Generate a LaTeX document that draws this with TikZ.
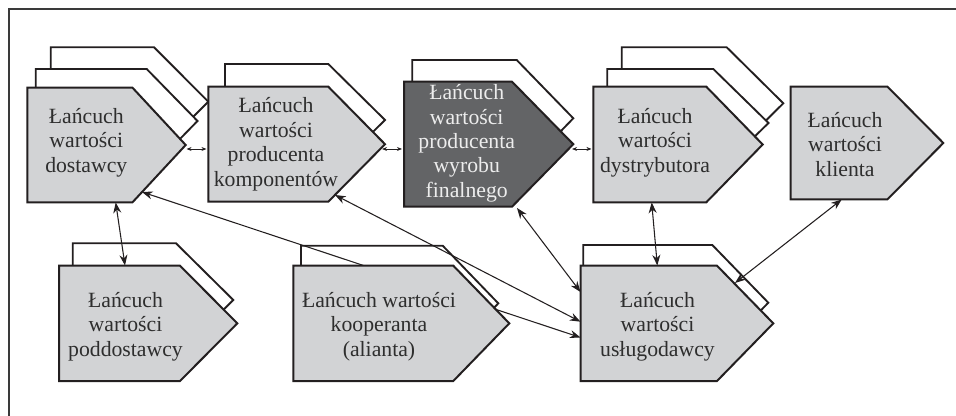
\documentclass[tikz,border=0pt]{standalone}
\usepackage{fontspec}
\setmainfont{Liberation Serif}
\usetikzlibrary{arrows.meta}

\definecolor{inkline}{HTML}{231F20}
\definecolor{lightfill}{HTML}{D2D3D5}
\definecolor{darkfill}{HTML}{636466}
\definecolor{textgray}{HTML}{2E2E2E}
\definecolor{framegray}{HTML}{3A3A3A}

% pentagon "chain" shape: style, left, top, right, bottom, tip x
\newcommand\chainbox[6]{%
  \draw[#1] (#2,#3) -- (#4,#3) -- (#6,{(#3+#5)/2}) -- (#4,#5) -- (#2,#5) -- cycle;}

\begin{document}
\begin{tikzpicture}[x=0.75pt,y=-0.75pt,
  backbox/.style={draw=inkline,line width=1.4pt,fill=white,line join=miter},
  frontbox/.style={draw=inkline,line width=1.5pt,fill=lightfill,line join=miter},
  mainbox/.style={draw=inkline,line width=1.5pt,fill=darkfill,line join=miter},
  label/.style={align=center,text=textgray,inner sep=0pt,
    font=\fontsize{16.3}{18.3}\selectfont},
  darklabel/.style={label,text=white!93!black},
  link/.style={draw=inkline,line width=0.8pt,{Stealth[length=8pt,width=6pt]}-{Stealth[length=8pt,width=6pt]}},
  shortlink/.style={draw=inkline,line width=0.6pt,{Stealth[length=3.8pt,width=3pt]}-{Stealth[length=3.8pt,width=3pt]}},
  frame/.style={draw=framegray,line width=1pt}]

\useasboundingbox (0,0) rectangle (956,416);

% outer frame (top and left sides)
\draw[frame] (956,9) -- (9,9) -- (9,416);

% stacked copies behind the front boxes
\chainbox{backbox}{50.7}{47.3}{154}{156}{208.3}
\chainbox{backbox}{35.7}{69}{146.7}{173}{197.5}
\chainbox{backbox}{225}{64}{328.3}{176}{385}
\chainbox{backbox}{412.3}{60}{516.7}{176.6}{573.3}
\chainbox{backbox}{621.7}{47.3}{726.7}{159.3}{783.3}
\chainbox{backbox}{607.3}{69}{713.3}{177}{768.5}
\chainbox{backbox}{72.7}{243.3}{176}{356.7}{233.3}
\chainbox{backbox}{301}{245.7}{442.7}{361}{498.3}
\chainbox{backbox}{583.3}{245}{712.3}{360.4}{768.3}

% connector end points on the box outlines
\coordinate (dos-e)   at (186.5,149);
\coordinate (kom-w)   at (206.5,149);
\coordinate (kom-e)   at (382,149);
\coordinate (fin-w)   at (402,149);
\coordinate (fin-e)   at (572,149);
\coordinate (dys-w)   at (591.5,149);
\coordinate (dos-s)   at (115.7,202.5);
\coordinate (pod-n)   at (125,265.5);
\coordinate (dos-se)  at (142,192);
\coordinate (usl-w1)  at (580.5,337.5);
\coordinate (kom-se)  at (335,195);
\coordinate (usl-w2)  at (580.5,321.7);
\coordinate (fin-se)  at (517,208);
\coordinate (usl-w3)  at (580.5,292);
\coordinate (dys-s)   at (651.7,202.5);
\coordinate (usl-n)   at (657.3,265.5);
\coordinate (kli-s)   at (841.7,199.5);
\coordinate (usl-ne)  at (735,283);

% connectors
\draw[shortlink] (dos-e) -- (kom-w);
\draw[shortlink] (kom-e) -- (fin-w);
\draw[shortlink] (fin-e) -- (dys-w);
\draw[link] (dos-s) -- (pod-n);
\draw[link] (dos-se) -- (usl-w1);
\draw[link] (kom-se) -- (usl-w2);
\draw[link] (fin-se) -- (usl-w3);
\draw[link] (dys-s) -- (usl-n);
\draw[link] (kli-s) -- (usl-ne);

% front boxes
\chainbox{frontbox}{27.3}{87.7}{132.5}{202.3}{185.7}
\chainbox{frontbox}{208.3}{86.7}{328.3}{201.7}{385}
\chainbox{mainbox}{404}{81.7}{512}{206.7}{573.3}
\chainbox{frontbox}{593.3}{86.7}{706.3}{202.3}{762.7}
\chainbox{frontbox}{790.7}{86.7}{887.5}{199.3}{943.3}
\chainbox{frontbox}{59}{265.7}{180}{381}{237.3}
\chainbox{frontbox}{293.3}{265.7}{453.3}{381}{509.3}
\chainbox{frontbox}{580.7}{265.7}{717}{381}{773.3}

% labels
\node[label] (dos) at (86.3,142.4) {Łańcuch\\wartości\\dostawcy};
\node[label] (kom) at (276,144.2) {Łańcuch\\wartości\\producenta\\komponentów};
\node[darklabel] (fin) at (466.7,143.3) {Łańcuch\\wartości\\producenta\\wyrobu\\finalnego};
\node[label] (dys) at (655,142.4) {Łańcuch\\wartości\\dystrybutora};
\node[label] (kli) at (845,144.5) {Łańcuch\\wartości\\klienta};
\node[label] (pod) at (125.5,326.6) {Łańcuch\\wartości\\poddostawcy};
\node[label] (koo) at (379,326.6) {Łańcuch wartości\\kooperanta\\(alianta)};
\node[label] (usl) at (657.5,326.6) {Łańcuch\\wartości\\usługodawcy};

\end{tikzpicture}
\end{document}
